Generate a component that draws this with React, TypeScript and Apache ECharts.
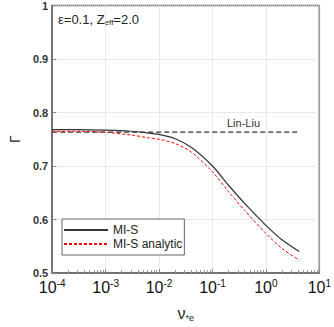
import React, { useEffect, useRef } from "react";
import * as echarts from "echarts";

const xValues = [1e-4, 3e-4, 1e-3, 3e-3, 6e-3, 1e-2, 2e-2, 4e-2, 0.1, 0.2, 0.4, 1, 2, 4.2];
const misValues = [0.768, 0.768, 0.767, 0.765, 0.762, 0.759, 0.751, 0.735, 0.7, 0.664, 0.63, 0.589, 0.562, 0.54];
const misAnalyticValues = [0.765, 0.765, 0.763, 0.758, 0.753, 0.75, 0.742, 0.726, 0.689, 0.652, 0.617, 0.574, 0.546, 0.524];
const linLiuX = [1e-4, 4.3];
const linLiuValue = 0.7635;
const seriesNames = ["MI-S", "MI-S analytic", "Lin-Liu"];

export default function App() {
  const ref = useRef<HTMLDivElement>(null);
  useEffect(() => {
    if (!ref.current) return;
    const chart = echarts.init(ref.current, null, { renderer: "svg" });
    const font = "Liberation Sans, Arial, sans-serif";
    const gridColor = "#d4d4d4";
    chart.setOption({
      animation: false,
      textStyle: { fontFamily: font },
      grid: {
        left: 52,
        top: 5,
        width: 275,
        height: 277,
        show: true,
        borderColor: "#666",
        borderWidth: 1.5,
        backgroundColor: "transparent",
      },
      xAxis: {
        type: "log",
        logBase: 10,
        min: 1e-4,
        max: 10,
        name: "{n|ν}{s|*e}",
        nameLocation: "middle",
        nameGap: 32,
        nameTextStyle: {
          rich: {
            n: { fontSize: 16, color: "#222", fontFamily: font },
            s: { fontSize: 9, color: "#222", fontFamily: font, padding: [8, 0, 0, 0] },
          },
        },
        axisLine: { lineStyle: { color: "#666", width: 1.5 } },
        axisTick: { inside: true, length: 4, lineStyle: { color: "#888" } },
        minorTick: { show: true, splitNumber: 9, length: 3, lineStyle: { color: "#999" } },
        splitLine: { show: true, lineStyle: { color: gridColor, type: "dotted", width: 1 } },
        axisLabel: {
          margin: 5,
          formatter: (v: number) => {
            const e = Math.round(Math.log10(v));
            return "{b|10}{s|" + e + "}";
          },
          rich: {
            b: { fontSize: 16, color: "#111", fontFamily: font },
            s: { fontSize: 10, color: "#111", fontFamily: font, padding: [0, 0, 9, 0] },
          },
        },
      },
      yAxis: {
        type: "value",
        min: 0.5,
        max: 1,
        interval: 0.1,
        name: "Γ",
        nameLocation: "middle",
        nameGap: 30,
        nameRotate: 90,
        nameTextStyle: { fontSize: 14, color: "#222", fontFamily: font },
        axisLine: { show: true, lineStyle: { color: "#666", width: 1.5 } },
        axisTick: { show: true, inside: true, length: 4, lineStyle: { color: "#888" } },
        splitLine: { show: true, lineStyle: { color: gridColor, type: "dotted", width: 1 } },
        axisLabel: { margin: 4, fontSize: 11, color: "#333", fontWeight: "bold", fontFamily: font },
      },
      legend: {
        data: [seriesNames[0], seriesNames[1]],
        orient: "vertical",
        left: 62,
        top: 219,
        itemWidth: 44,
        itemHeight: 10,
        itemGap: 2,
        padding: [5, 2, 5, 1],
        borderColor: "#666",
        borderWidth: 1,
        backgroundColor: "#fff",
        itemStyle: { opacity: 0 },
        textStyle: { fontSize: 12, color: "#222", fontFamily: font, lineHeight: 12 },
      },
      graphic: [
        {
          type: "text",
          left: 58,
          top: 13,
          style: {
            text: "{a|ε=0.1, Z}{s|eff}{a|=2.0}",
            rich: {
              a: { fontSize: 13, fill: "#222", fontFamily: font },
              s: { fontSize: 8, fill: "#222", fontFamily: font, padding: [6, 0, 0, 0] },
            },
          },
        },
        {
          type: "text",
          left: 227,
          top: 117,
          style: { text: "Lin-Liu", fontSize: 11, fill: "#333", fontFamily: font },
        },
      ],
      series: [
        {
          name: seriesNames[0],
          type: "line",
          data: xValues.map((x, i) => [x, misValues[i]]),
          smooth: 0.3,
          symbol: "none",
          lineStyle: { color: "#333", width: 1.2 },
          itemStyle: { color: "#333" },
          z: 3,
        },
        {
          name: seriesNames[1],
          type: "line",
          data: xValues.map((x, i) => [x, misAnalyticValues[i]]),
          smooth: 0.3,
          symbol: "none",
          lineStyle: { color: "#f00", width: 1, type: [3, 2] },
          itemStyle: { color: "#f00" },
          z: 4,
        },
        {
          name: seriesNames[2],
          type: "line",
          data: linLiuX.map((x) => [x, linLiuValue]),
          symbol: "none",
          lineStyle: { color: "#333", width: 1.2, type: [5, 3] },
          itemStyle: { color: "#333" },
          z: 2,
        },
      ],
    });
    return () => chart.dispose();
  }, []);
  return (
    <div
      ref={ref}
      style={{ position: "fixed", left: 0, top: 0, width: 334, height: 327, background: "#fff" }}
    />
  );
}
